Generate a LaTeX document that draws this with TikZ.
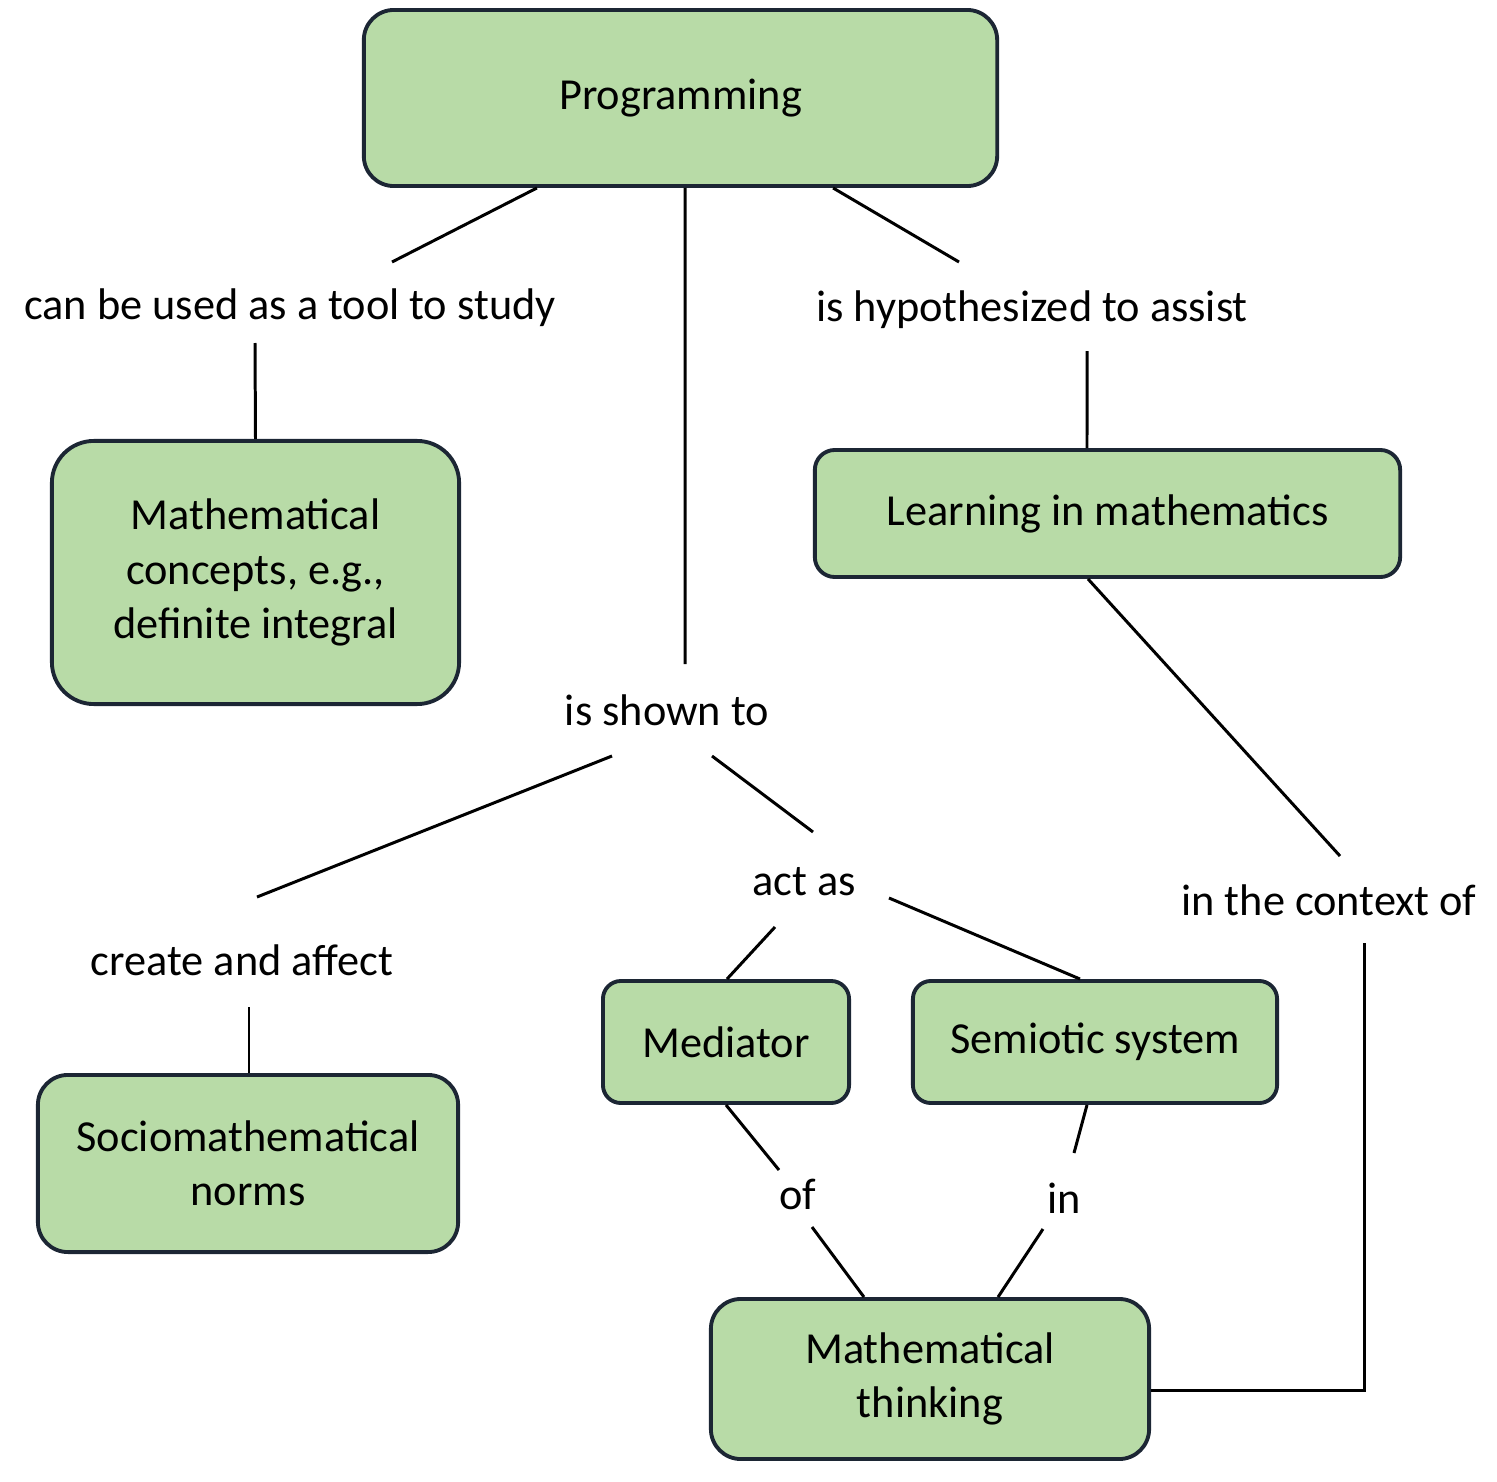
\documentclass[tikz,border=0pt]{standalone}
\usepackage{fontspec}
\setmainfont{Carlito}
\definecolor{boxfill}{HTML}{B8DBA7}
\definecolor{boxline}{HTML}{1C2634}
\tikzset{
  concept/.style={rectangle, draw=boxline, fill=boxfill, line width=1.1pt,
                  align=center, inner sep=4pt, font=\fontsize{12.6}{15.4}\selectfont},
  lbl/.style={inner sep=1pt, font=\fontsize{12.6}{15.4}\selectfont},
  ln/.style={draw=black, line width=0.85pt},
}
\begin{document}
\begin{tikzpicture}[x=0.01cm, y=-0.01cm]
\useasboundingbox (0,0) rectangle (1497,1482);

\node[concept, rounded corners=0.3cm, minimum width=6.33cm, minimum height=1.76cm] (prog) at (680.5,98) {Programming};
\node[concept, rounded corners=0.42cm, minimum width=4.07cm, minimum height=2.63cm] (concept) at (255.5,572.5) {Mathematical\\concepts, e.g.,\\definite integral};
\node[concept, rounded corners=0.2cm, minimum width=5.85cm, minimum height=1.27cm] (learn) at (1107.5,513.5) {Learning in mathematics};
\node[concept, rounded corners=0.3cm, minimum width=4.2cm, minimum height=1.77cm] (norms) at (248,1163.5) {Sociomathematical\\norms};
\node[concept, rounded corners=0.18cm, minimum width=2.46cm, minimum height=1.22cm] (med) at (726,1042) {Mediator};
\node[concept, rounded corners=0.18cm, minimum width=3.64cm, minimum height=1.22cm] (semio) at (1095,1042) {Semiotic system};
\node[concept, rounded corners=0.3cm, minimum width=4.38cm, minimum height=1.6cm] (think) at (930,1379) {Mathematical\\thinking};

\node[lbl] (lbltool) at (290,308) {can be used as a tool to study};
\node[lbl] (lblassist) at (1032,310) {is hypothesized to assist};
\node[lbl] (lblshown) at (667,710) {is shown to};
\node[lbl] (lblact) at (804,882) {act as};
\node[lbl] (lblctx) at (1329,900) {in the context of};
\node[lbl] (lblaffect) at (242,960) {create and affect};
\node[lbl] (lblof) at (798,1194) {of};
\node[lbl] (lblin) at (1064,1198) {in};

% free ends next to the labels
\coordinate (a1) at (392,262);
\coordinate (a2) at (685,664);
\coordinate (a3) at (959,262);
\coordinate (a4) at (255,343);
\coordinate (a5) at (1087,351);
\coordinate (a6) at (1340,856);
\coordinate (a7) at (612,756);
\coordinate (a8) at (257,897);
\coordinate (a9) at (712,756);
\coordinate (a10) at (813,832);
\coordinate (a11) at (775,927);
\coordinate (a12) at (889,898);
\coordinate (a13) at (249,1007);
\coordinate (a14) at (779,1170);
\coordinate (a15) at (812,1227);
\coordinate (a16) at (1074,1153);
\coordinate (a17) at (1043,1229);
\coordinate (a18) at (1364,943);

\draw[ln] ([xshift=-1.435cm]prog.south) -- (a1);
\draw[ln] ([xshift=0.045cm]prog.south) -- (a2);
\draw[ln] ([xshift=1.525cm]prog.south) -- (a3);
\draw[ln] (a4) -- (concept.north);
\draw[ln] (a5) -- ([xshift=-0.205cm]learn.north);
\draw[ln] ([xshift=-0.195cm]learn.south) -- (a6);
\draw[ln] (a7) -- (a8);
\draw[ln] (a9) -- (a10);
\draw[ln] (a11) -- ([xshift=0.01cm]med.north);
\draw[ln] (a12) -- ([xshift=-0.15cm]semio.north);
\draw[ln] (a13) -- ([xshift=0.01cm]norms.north);
\draw[ln] (med.south) -- (a14);
\draw[ln] (a15) -- ([xshift=-0.66cm]think.north);
\draw[ln] ([xshift=-0.08cm]semio.south) -- (a16);
\draw[ln] (a17) -- ([xshift=0.68cm]think.north);
\draw[ln] (a18) |- ([yshift=-0.11cm]think.east);
\end{tikzpicture}
\end{document}
